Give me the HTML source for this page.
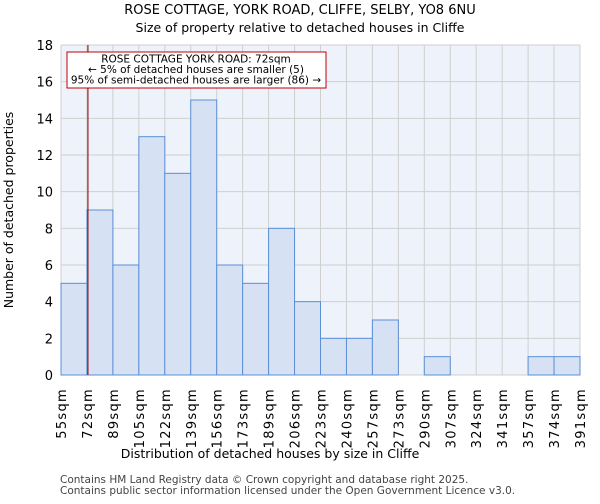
<!DOCTYPE html>
<html><head><meta charset="utf-8"><style>
body{margin:0;background:#fff;font-family:"DejaVu Sans","Liberation Sans",sans-serif;}
</style></head><body>
<svg id="c" width="600" height="500" xmlns="http://www.w3.org/2000/svg" font-family="DejaVu Sans, Liberation Sans, sans-serif">
<text x="300" y="14" text-anchor="middle" font-size="13">ROSE COTTAGE, YORK ROAD, CLIFFE, SELBY, YO8 6NU</text>
<text x="300" y="32" text-anchor="middle" font-size="12.5">Size of property relative to detached houses in Cliffe</text>
<rect x="61" y="45" width="519" height="330" fill="#eef2fa"/>
<g id="grid"></g><g id="bars"></g><g id="axes"></g>
<text x="270" y="458" text-anchor="middle" font-size="12.5">Distribution of detached houses by size in Cliffe</text>
<text transform="translate(13,210) rotate(-90)" text-anchor="middle" font-size="12.5">Number of detached properties</text>
<text x="60" y="483" font-size="10.5" fill="#444">Contains HM Land Registry data © Crown copyright and database right 2025.</text>
<text x="60" y="494" font-size="10.5" fill="#444">Contains public sector information licensed under the Open Government Licence v3.0.</text>
</svg>
<script>
const categories=["55sqm","72sqm","89sqm","105sqm","122sqm","139sqm","156sqm","173sqm","189sqm","206sqm","223sqm","240sqm","257sqm","273sqm","290sqm","307sqm","324sqm","341sqm","357sqm","374sqm","391sqm"];
const counts=[5,9,6,13,11,15,6,5,8,4,2,2,3,0,1,0,0,0,1,1];
const yTicks=[0,2,4,6,8,10,12,14,16,18];
const markerBin=1;
const NS="http://www.w3.org/2000/svg";
const X0=61,X1=580,Y0=375,Y1=45,YMAX=18;
const bw=(X1-X0)/counts.length;
const xs=i=>X0+i*bw;
const ys=v=>Y0-(v/YMAX)*(Y0-Y1);
function mk(tag,attrs,parent){const e=document.createElementNS(NS,tag);for(const k in attrs)e.setAttribute(k,attrs[k]);document.getElementById(parent).appendChild(e);return e;}
yTicks.forEach(t=>{
  const l=mk('line',{x1:X0,x2:X1,y1:ys(t),y2:ys(t),stroke:'#cfcfcf','stroke-width':1},'grid');
  
  
  const tx=mk('text',{x:X0-8,y:ys(t)+5,'text-anchor':'end','font-size':13},'axes');
  tx.textContent=t;
  
  
});
categories.forEach((c,i)=>{
  const x=xs(i);
  const l=mk('line',{x1:x,x2:x,y1:Y1,y2:Y0,stroke:'#cfcfcf','stroke-width':1},'grid');
  
  
  const tx=mk('text',{transform:`translate(${x+5},388) rotate(-90)`,'text-anchor':'end','font-size':13,'letter-spacing':'1.3'},'axes');
  tx.textContent=c;
  
  
});
counts.forEach((v,i)=>{
  if(v<=0)return;
  const r=mk('rect',{x:xs(i),y:ys(v),width:bw,height:Y0-ys(v),fill:'#d6e2f4',stroke:'#5b8fd6','stroke-width':1},'bars');
  
  
});
const ml=mk('line',{x1:xs(markerBin)+1,x2:xs(markerBin)+1,y1:Y1,y2:Y0,stroke:'#8b0000','stroke-width':1},'axes');


const box=mk('rect',{x:67,y:52,width:259,height:36,fill:'#fff',stroke:'#c00000','stroke-width':1},'axes');


["ROSE COTTAGE YORK ROAD: 72sqm","← 5% of detached houses are smaller (5)","95% of semi-detached houses are larger (86) →"].forEach((s,i)=>{
  const t=mk('text',{x:196,y:62.5+i*10.5,'text-anchor':'middle','font-size':10.5},'axes');
  t.textContent=s;
  
  
});
</script>
</body></html>
